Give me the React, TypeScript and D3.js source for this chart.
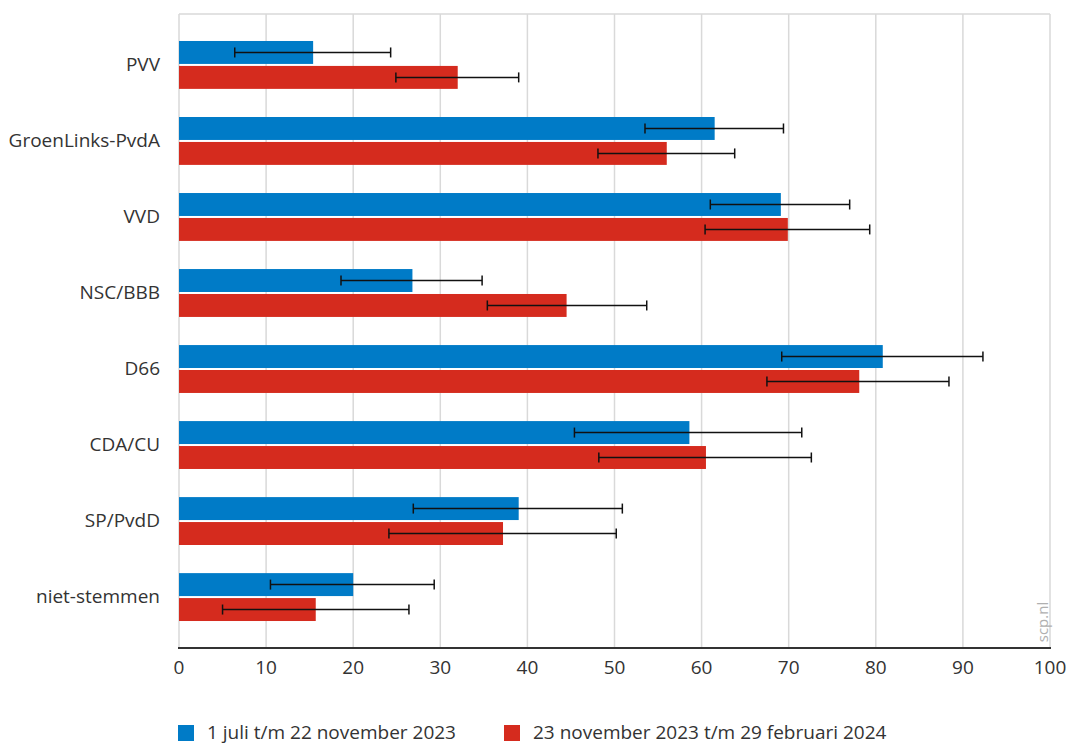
import React from "react";
import * as d3 from "d3";

const categories = ["PVV", "GroenLinks-PvdA", "VVD", "NSC/BBB", "D66", "CDA/CU", "SP/PvdD", "niet-stemmen"];
const seriesNames = ["1 juli t/m 22 november 2023", "23 november 2023 t/m 29 februari 2024"];
const seriesColors = ["#007bc7", "#d52b1e"];

const period1Values = [15.4, 61.5, 69.1, 26.8, 80.8, 58.6, 39.0, 20.0];
const period1Low = [6.4, 53.5, 61.0, 18.6, 69.2, 45.4, 26.9, 10.5];
const period1High = [24.3, 69.4, 77.0, 34.8, 92.3, 71.5, 50.9, 29.3];

const period2Values = [32.0, 56.0, 69.9, 44.5, 78.1, 60.5, 37.2, 15.7];
const period2Low = [24.9, 48.1, 60.4, 35.4, 67.5, 48.2, 24.1, 5.0];
const period2High = [39.0, 63.8, 79.3, 53.7, 88.4, 72.6, 50.2, 26.4];

const xTicks = [0, 10, 20, 30, 40, 50, 60, 70, 80, 90, 100];

const W = 1068;
const H = 746;
const left = 179;
const right = 1050;
const top = 14;
const bottom = 648;
const font = "'Open Sans', 'Noto Sans', sans-serif";

export default function App() {
  const x = d3.scaleLinear().domain([0, 100]).range([left, right]);
  const y = d3.scaleBand<string>().domain(categories).range([top, bottom]).paddingInner(0.37).paddingOuter(0.355);
  const ySub = d3.scaleBand<string>().domain(["a", "b"]).range([0, y.bandwidth()]).paddingInner(0.08).paddingOuter(0);

  const series = [
    { key: "a", values: period1Values, low: period1Low, high: period1High, color: seriesColors[0] },
    { key: "b", values: period2Values, low: period2Low, high: period2High, color: seriesColors[1] },
  ];

  return (
    <svg width={W} height={H} style={{ position: "absolute", left: 0, top: 0, background: "#fff" }} fontFamily={font}>
      {/* grid */}
      {xTicks.map((t) => (
        <line key={"g" + t} x1={x(t)} x2={x(t)} y1={top} y2={bottom} stroke="#d9d9d9" strokeWidth={1.5} />
      ))}
      <line x1={left} x2={right} y1={top} y2={top} stroke="#d9d9d9" strokeWidth={1.5} />

      {/* bars */}
      {series.map((s) =>
        categories.map((c, i) => (
          <rect
            key={s.key + c}
            x={x(0)}
            y={(y(c) as number) + (ySub(s.key) as number)}
            width={x(s.values[i]) - x(0)}
            height={ySub.bandwidth()}
            fill={s.color}
          />
        ))
      )}

      {/* error bars */}
      {series.map((s) =>
        categories.map((c, i) => {
          const cy = (y(c) as number) + (ySub(s.key) as number) + ySub.bandwidth() / 2;
          const x1 = x(s.low[i]);
          const x2 = x(s.high[i]);
          return (
            <g key={"e" + s.key + c} stroke="#111" strokeWidth={1.5}>
              <line x1={x1} x2={x2} y1={cy} y2={cy} />
              <line x1={x1} x2={x1} y1={cy - 5} y2={cy + 5} />
              <line x1={x2} x2={x2} y1={cy - 5} y2={cy + 5} />
            </g>
          );
        })
      )}

      {/* axis line */}
      <line x1={left - 1} x2={right + 1} y1={bottom} y2={bottom} stroke="#333" strokeWidth={2} />

      {/* x tick labels */}
      {xTicks.map((t) => (
        <text key={"t" + t} x={x(t)} y={667} textAnchor="middle" dominantBaseline="central" fontSize={19} fill="#333">
          {t}
        </text>
      ))}

      {/* category labels */}
      {categories.map((c) => (
        <text
          key={"l" + c}
          x={160}
          y={(y(c) as number) + y.bandwidth() / 2 - 1}
          textAnchor="end"
          dominantBaseline="central"
          fontSize={19}
          fill="#333"
        >
          {c}
        </text>
      ))}

      {/* watermark */}
      <text
        transform={`translate(1042, 622) rotate(-90)`}
        textAnchor="middle"
        dominantBaseline="central"
        fontSize={15}
        fill="#b0b0b0"
      >
        scp.nl
      </text>

      {/* legend */}
      {[178, 504].map((lx, i) => (
        <g key={"lg" + i}>
          <rect x={lx} y={725} width={16} height={16} fill={seriesColors[i]} />
          <text x={lx + 29} y={732} dominantBaseline="central" fontSize={19} fill="#333">
            {seriesNames[i]}
          </text>
        </g>
      ))}
    </svg>
  );
}
